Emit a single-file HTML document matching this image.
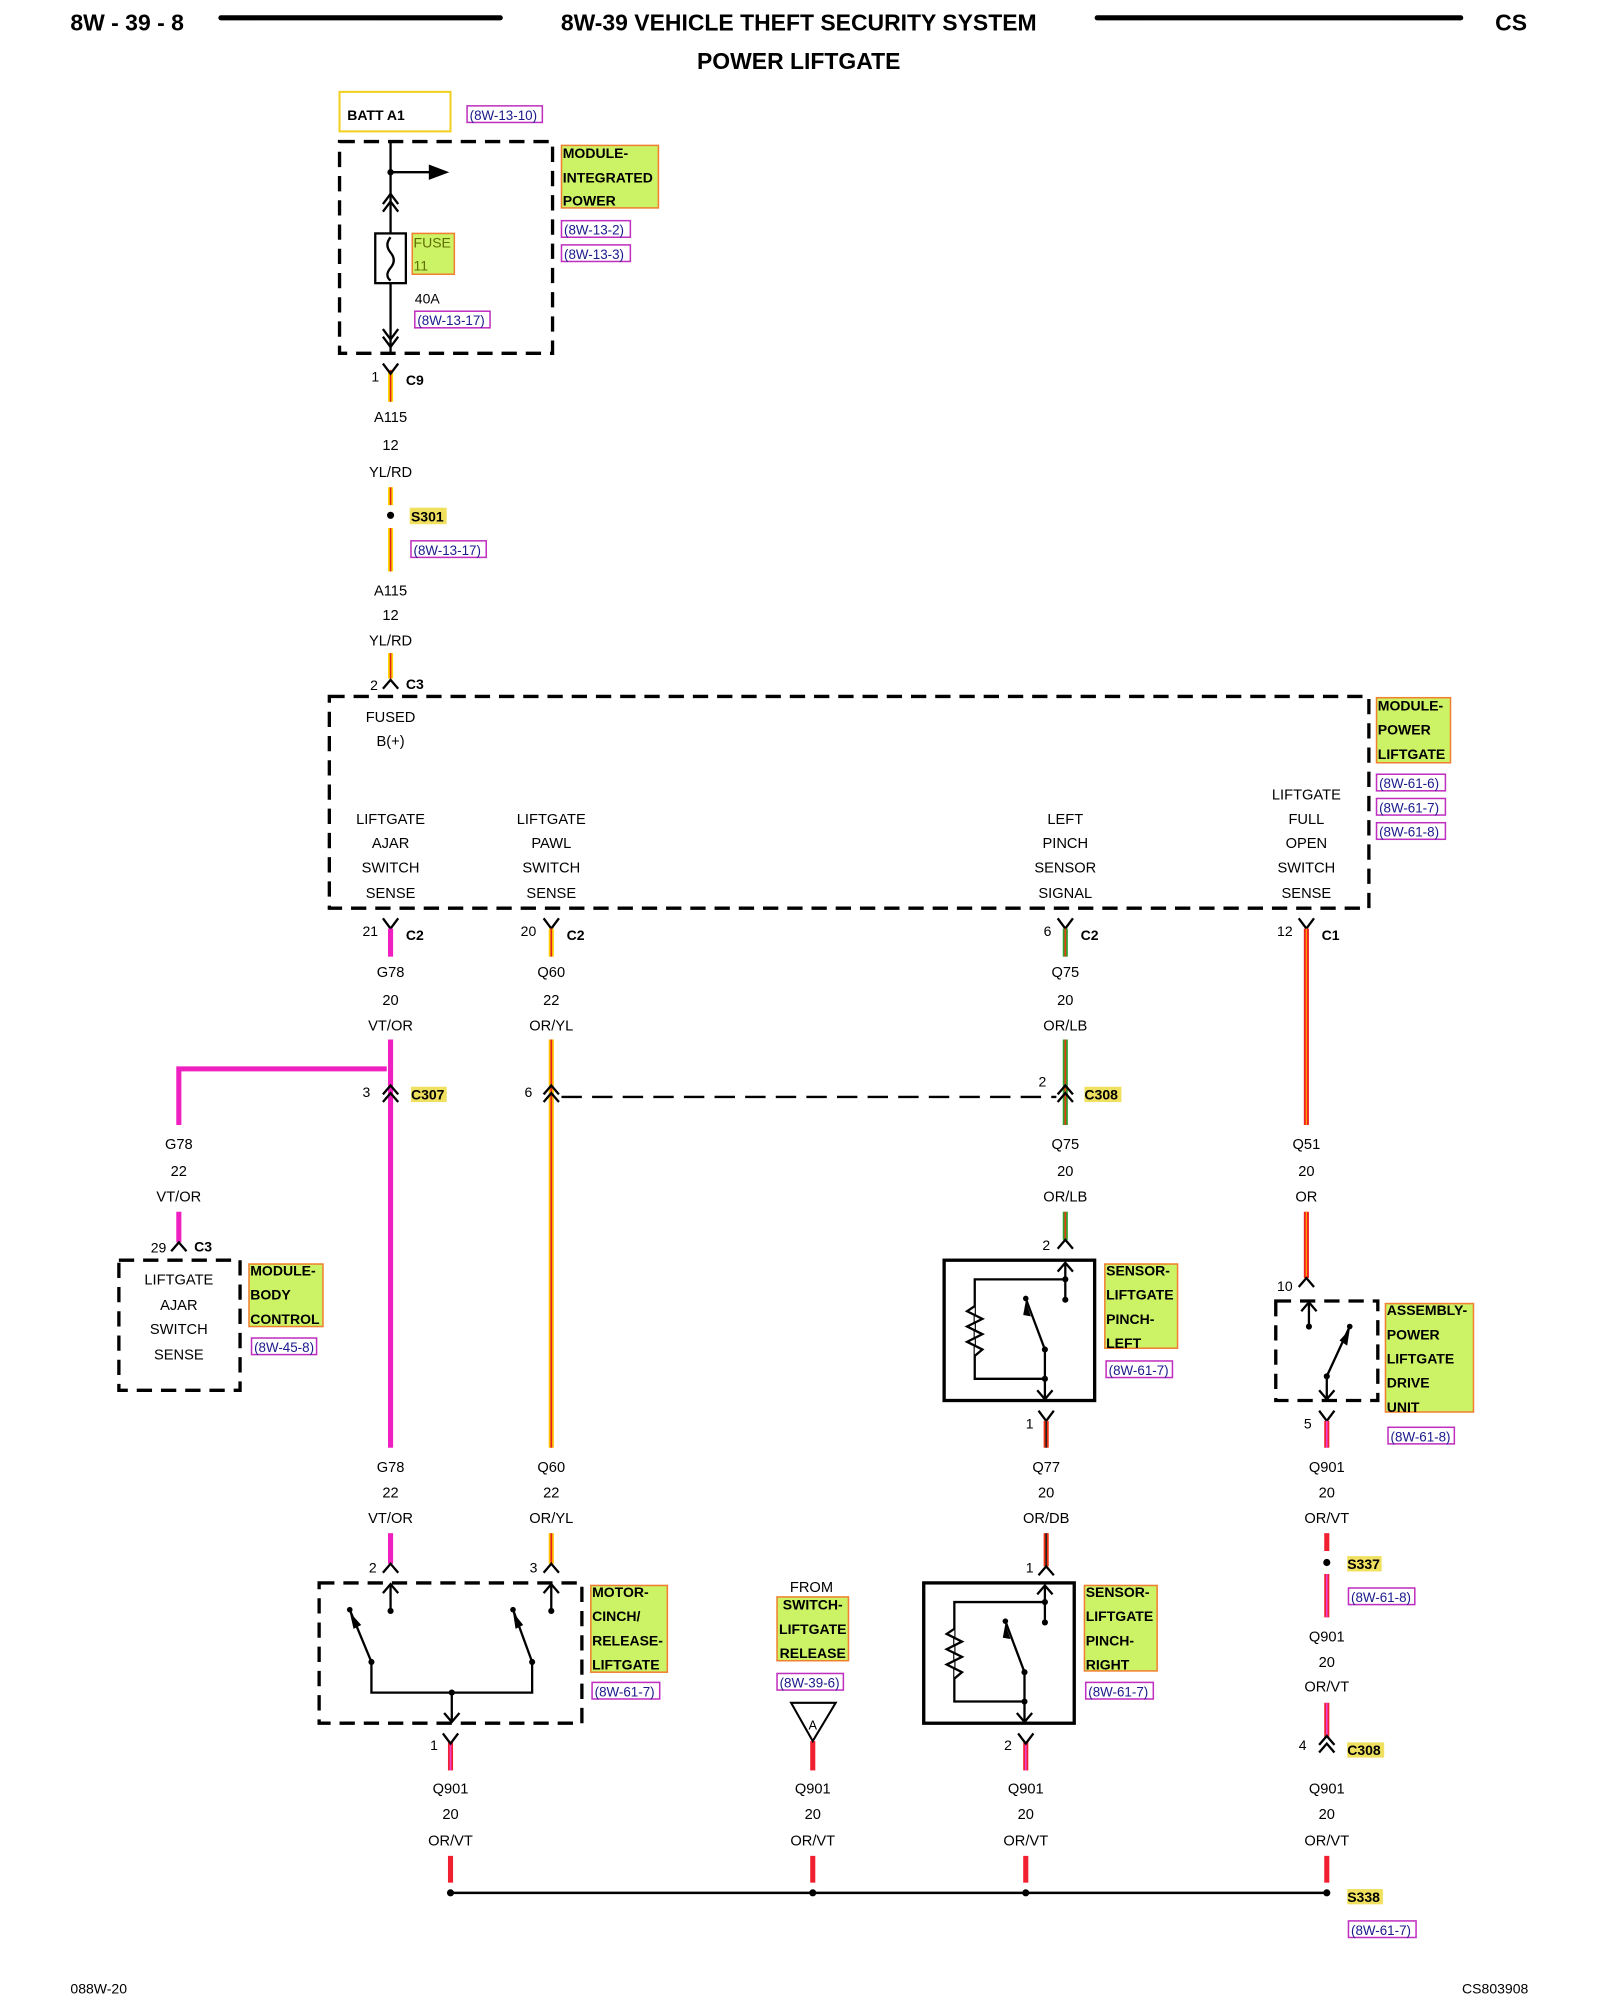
<!DOCTYPE html>
<html><head><meta charset="utf-8"><style>
html,body{margin:0;padding:0;background:#fff}
svg{display:block}
text{font-family:"Liberation Sans",Arial,sans-serif}
.t{font-size:11.5px;text-anchor:middle;fill:#000}
.b{font-size:11px;font-weight:bold;fill:#000}
.r{font-size:10.5px;fill:#1a1a8c}
.lb{fill:#ccf266;stroke:#f08030;stroke-width:1.2}
.rb{fill:none;stroke:#c030c0;stroke-width:1.2}
.d{fill:none;stroke:#000;stroke-width:2.6;stroke-dasharray:12,7}
.k{stroke:#000;stroke-width:1.8;fill:none}
</style></head><body>
<svg width="1600" height="2000" viewBox="0 0 1254 1568" xmlns="http://www.w3.org/2000/svg">
<!-- header -->
<text x="55" y="24" style="font-size:18px;font-weight:bold">8W - 39 - 8</text>
<line x1="173" y1="14" x2="392" y2="14" stroke="#000" stroke-width="4" stroke-linecap="round"/>
<text x="626" y="24" style="font-size:18px;font-weight:bold;text-anchor:middle">8W-39 VEHICLE THEFT SECURITY SYSTEM</text>
<line x1="860" y1="14" x2="1145" y2="14" stroke="#000" stroke-width="4" stroke-linecap="round"/>
<text x="1172" y="24" style="font-size:18px;font-weight:bold">CS</text>
<text x="626" y="54" style="font-size:18px;font-weight:bold;text-anchor:middle">POWER LIFTGATE</text>

<!-- BATT -->
<rect x="266" y="72" width="87" height="31" fill="none" stroke="#f0d020" stroke-width="1.6"/>
<text x="272" y="94" class="b">BATT A1</text>
<rect x="366" y="83" width="59" height="13" class="rb"/><text x="368" y="94" class="r">(8W-13-10)</text>
<rect x="266" y="111" width="167" height="166" class="d"/>
<line x1="306" y1="111" x2="306" y2="277" class="k"/>
<circle cx="306" cy="135" r="2.5"/>
<line x1="306" y1="135" x2="338" y2="135" class="k"/>
<polygon points="336,129 352,135 336,141"/>
<polyline points="300,160 306,152 312,160" class="k"/><polyline points="300,166 306,158 312,166" class="k"/>
<rect x="294" y="183" width="24" height="39" fill="#fff" stroke="#000" stroke-width="1.8"/>
<path d="M306,186 q-5,6 0,12 q5,6 0,12 q-5,6 0,10" class="k" stroke-width="1.2"/>
<rect x="323" y="183" width="33" height="32" class="lb"/>
<text x="324" y="194" style="font-size:11px;fill:#607000">FUSE</text><text x="324" y="212" style="font-size:11px;fill:#607000">11</text>
<text x="325" y="238" style="font-size:11px">40A</text>
<rect x="325" y="244" width="59" height="13" class="rb"/><text x="327" y="255" class="r">(8W-13-17)</text>
<polyline points="300,258 306,266 312,258" class="k"/><polyline points="300,264 306,272 312,264" class="k"/>
<rect x="440" y="114" width="76" height="49" class="lb"/>
<text x="441" y="124" class="b">MODULE-</text><text x="441" y="143" class="b">INTEGRATED</text><text x="441" y="161" class="b">POWER</text>
<rect x="440" y="173" width="54" height="13" class="rb"/><text x="442" y="184" class="r">(8W-13-2)</text>
<rect x="440" y="192" width="54" height="13" class="rb"/><text x="442" y="203" class="r">(8W-13-3)</text>

<!-- A115 -->
<g stroke-linecap="butt">
<line x1="306" y1="290" x2="306" y2="315" stroke="#ffd800" stroke-width="4"/><line x1="306" y1="290" x2="306" y2="315" stroke="#e02020" stroke-width="1.3"/>
<line x1="306" y1="382" x2="306" y2="396" stroke="#ffd800" stroke-width="4"/><line x1="306" y1="382" x2="306" y2="396" stroke="#e02020" stroke-width="1.3"/>
<line x1="306" y1="414" x2="306" y2="448" stroke="#ffd800" stroke-width="4"/><line x1="306" y1="414" x2="306" y2="448" stroke="#e02020" stroke-width="1.3"/>
<line x1="306" y1="512" x2="306" y2="532" stroke="#ffd800" stroke-width="4"/><line x1="306" y1="512" x2="306" y2="532" stroke="#e02020" stroke-width="1.3"/>
</g>
<polyline points="300,285 306,293 312,285" class="k"/>
<text x="291" y="299" style="font-size:11px">1</text><text x="318" y="302" class="b">C9</text>
<text x="306" y="331" class="t">A115</text><text x="306" y="353" class="t">12</text><text x="306" y="374" class="t">YL/RD</text>
<circle cx="306" cy="404" r="2.8"/>
<rect x="321" y="398" width="29" height="13" fill="#f0e060"/><text x="322" y="409" class="b">S301</text>
<rect x="322" y="424" width="59" height="13" class="rb"/><text x="324" y="435" class="r">(8W-13-17)</text>
<text x="306" y="467" class="t">A115</text><text x="306" y="486" class="t">12</text><text x="306" y="506" class="t">YL/RD</text>
<polyline points="300,540 306,533 312,540" class="k"/>
<text x="290" y="541" style="font-size:11px">2</text><text x="318" y="540" class="b">C3</text>

<!-- big module -->
<rect x="258" y="546" width="815" height="166" class="d"/>
<text x="306" y="566" class="t">FUSED</text><text x="306" y="585" class="t">B(+)</text>
<g class="t">
<text x="306" y="646" class="t">LIFTGATE</text><text x="306" y="665" class="t">AJAR</text><text x="306" y="684" class="t">SWITCH</text><text x="306" y="704" class="t">SENSE</text>
<text x="432" y="646" class="t">LIFTGATE</text><text x="432" y="665" class="t">PAWL</text><text x="432" y="684" class="t">SWITCH</text><text x="432" y="704" class="t">SENSE</text>
<text x="835" y="646" class="t">LEFT</text><text x="835" y="665" class="t">PINCH</text><text x="835" y="684" class="t">SENSOR</text><text x="835" y="704" class="t">SIGNAL</text>
<text x="1024" y="627" class="t">LIFTGATE</text><text x="1024" y="646" class="t">FULL</text><text x="1024" y="665" class="t">OPEN</text><text x="1024" y="684" class="t">SWITCH</text><text x="1024" y="704" class="t">SENSE</text>
</g>
<rect x="1079" y="547" width="58" height="51" class="lb"/>
<text x="1080" y="557" class="b">MODULE-</text><text x="1080" y="576" class="b">POWER</text><text x="1080" y="595" class="b">LIFTGATE</text>
<rect x="1079" y="607" width="54" height="13" class="rb"/><text x="1081" y="618" class="r">(8W-61-6)</text>
<rect x="1079" y="626" width="54" height="13" class="rb"/><text x="1081" y="637" class="r">(8W-61-7)</text>
<rect x="1079" y="645" width="54" height="13" class="rb"/><text x="1081" y="656" class="r">(8W-61-8)</text>

<!-- C2/C1 connectors -->
<polyline points="300,720 306,728 312,720" class="k"/><polyline points="426,720 432,728 438,720" class="k"/>
<polyline points="829,720 835,728 841,720" class="k"/><polyline points="1018,720 1024,728 1030,720" class="k"/>
<text x="284" y="734" style="font-size:11px">21</text><text x="318" y="737" class="b">C2</text>
<text x="408" y="734" style="font-size:11px">20</text><text x="444" y="737" class="b">C2</text>
<text x="818" y="734" style="font-size:11px">6</text><text x="847" y="737" class="b">C2</text>
<text x="1001" y="734" style="font-size:11px">12</text><text x="1036" y="737" class="b">C1</text>
<!-- wires from C2 -->
<line x1="306" y1="728" x2="306" y2="750" stroke="#f020c0" stroke-width="4"/>
<line x1="432" y1="728" x2="432" y2="750" stroke="#ffd000" stroke-width="4"/><line x1="432" y1="728" x2="432" y2="750" stroke="#e02020" stroke-width="1.3"/>
<line x1="835" y1="728" x2="835" y2="750" stroke="#30a030" stroke-width="4"/><line x1="835" y1="728" x2="835" y2="750" stroke="#e04010" stroke-width="1.3"/>
<line x1="1024" y1="728" x2="1024" y2="882" stroke="#f02020" stroke-width="4"/><line x1="1024" y1="728" x2="1024" y2="882" stroke="#ffa000" stroke-width="1"/>
<text x="306" y="766" class="t">G78</text><text x="306" y="788" class="t">20</text><text x="306" y="808" class="t">VT/OR</text>
<text x="432" y="766" class="t">Q60</text><text x="432" y="788" class="t">22</text><text x="432" y="808" class="t">OR/YL</text>
<text x="835" y="766" class="t">Q75</text><text x="835" y="788" class="t">20</text><text x="835" y="808" class="t">OR/LB</text>

<!-- long wires -->
<line x1="306" y1="815" x2="306" y2="1135" stroke="#f020c0" stroke-width="4"/>
<polyline points="303,838 140,838 140,882" fill="none" stroke="#f020c0" stroke-width="4"/>
<line x1="432" y1="815" x2="432" y2="1135" stroke="#ffc000" stroke-width="4"/><line x1="432" y1="815" x2="432" y2="1135" stroke="#e02020" stroke-width="1.3"/>
<line x1="835" y1="815" x2="835" y2="882" stroke="#30a030" stroke-width="4"/><line x1="835" y1="815" x2="835" y2="882" stroke="#e04010" stroke-width="1.3"/>
<polyline points="300,858 306,851 312,858" class="k"/><polyline points="300,864 306,857 312,864" class="k"/>
<polyline points="426,858 432,851 438,858" class="k"/><polyline points="426,864 432,857 438,864" class="k"/>
<polyline points="829,858 835,851 841,858" class="k"/><polyline points="829,864 835,857 841,864" class="k"/>
<line x1="440" y1="860" x2="828" y2="860" stroke="#000" stroke-width="1.8" stroke-dasharray="16,8"/>
<text x="284" y="860" style="font-size:11px">3</text>
<rect x="322" y="852" width="28" height="12" fill="#f0e060"/><text x="322" y="862" class="b">C307</text>
<text x="411" y="860" style="font-size:11px">6</text>
<text x="814" y="852" style="font-size:11px">2</text>
<rect x="850" y="852" width="29" height="12" fill="#f0e060"/><text x="850" y="862" class="b">C308</text>

<!-- body control -->
<text x="140" y="901" class="t">G78</text><text x="140" y="922" class="t">22</text><text x="140" y="942" class="t">VT/OR</text>
<line x1="140" y1="950" x2="140" y2="974" stroke="#f020c0" stroke-width="4"/>
<polyline points="134,981 140,974 146,981" class="k"/>
<text x="118" y="982" style="font-size:11px">29</text><text x="152" y="981" class="b">C3</text>
<rect x="93" y="988" width="95" height="102" class="d"/>
<text x="140" y="1007" class="t">LIFTGATE</text><text x="140" y="1027" class="t">AJAR</text><text x="140" y="1046" class="t">SWITCH</text><text x="140" y="1066" class="t">SENSE</text>
<rect x="195" y="991" width="58" height="49" class="lb"/>
<text x="196" y="1000" class="b">MODULE-</text><text x="196" y="1019" class="b">BODY</text><text x="196" y="1038" class="b">CONTROL</text>
<rect x="197" y="1049" width="51" height="13" class="rb"/><text x="199" y="1060" class="r">(8W-45-8)</text>

<!-- Q75 / sensor left -->
<text x="835" y="901" class="t">Q75</text><text x="835" y="922" class="t">20</text><text x="835" y="942" class="t">OR/LB</text>
<line x1="835" y1="950" x2="835" y2="972" stroke="#30a030" stroke-width="4"/><line x1="835" y1="950" x2="835" y2="972" stroke="#e04010" stroke-width="1.3"/>
<polyline points="829,979 835,972 841,979" class="k"/><text x="817" y="980" style="font-size:11px">2</text>
<g id="sens">
<rect x="740" y="988" width="118" height="110" fill="none" stroke="#000" stroke-width="2.6"/>
<line x1="835" y1="990" x2="835" y2="1019" class="k"/><polyline points="829,997 835,990 841,997" class="k"/>
<circle cx="835" cy="1019" r="2.4"/>
<polyline points="835,1003 764,1003 764,1081 819,1081" class="k"/><circle cx="835" cy="1003" r="2.4"/>
<polyline points="764,1024 758,1028 770,1034 758,1040 770,1046 758,1052 770,1058 764,1063" fill="#fff" stroke="#000" stroke-width="1.8"/>
<line x1="819" y1="1058" x2="819" y2="1097" class="k"/><circle cx="819" cy="1058" r="2.4"/><circle cx="819" cy="1081" r="2.4"/>
<line x1="819" y1="1058" x2="804" y2="1018" class="k"/><circle cx="804" cy="1018" r="2.2"/>
<polygon points="804,1020 808,1032 802,1031"/>
<polyline points="813,1090 819,1097 825,1090" class="k"/>
</g>
<rect x="866" y="991" width="57" height="66" class="lb"/>
<text x="867" y="1000" class="b">SENSOR-</text><text x="867" y="1019" class="b">LIFTGATE</text><text x="867" y="1038" class="b">PINCH-</text><text x="867" y="1057" class="b">LEFT</text>
<rect x="867" y="1067" width="52" height="13" class="rb"/><text x="869" y="1078" class="r">(8W-61-7)</text>
<polyline points="814,1106 820,1114 826,1106" class="k"/><text x="804" y="1120" style="font-size:11px">1</text>
<line x1="820" y1="1114" x2="820" y2="1135" stroke="#f03010" stroke-width="4"/><line x1="820" y1="1114" x2="820" y2="1135" stroke="#202020" stroke-width="1.2"/>

<!-- Q51 / drive unit -->
<text x="1024" y="901" class="t">Q51</text><text x="1024" y="922" class="t">20</text><text x="1024" y="942" class="t">OR</text>
<line x1="1024" y1="950" x2="1024" y2="1002" stroke="#f02020" stroke-width="4"/><line x1="1024" y1="950" x2="1024" y2="1002" stroke="#ffa000" stroke-width="1"/>
<polyline points="1018,1009 1024,1002 1030,1009" class="k"/><text x="1001" y="1012" style="font-size:11px">10</text>
<rect x="1000" y="1020" width="80" height="78" class="d"/>
<line x1="1026" y1="1021" x2="1026" y2="1040" class="k"/><polyline points="1020,1028 1026,1021 1032,1028" class="k"/><circle cx="1026" cy="1040" r="2.4"/>
<line x1="1040" y1="1079" x2="1040" y2="1097" class="k"/><circle cx="1040" cy="1079" r="2.4"/>
<line x1="1040" y1="1079" x2="1058" y2="1040" class="k"/><circle cx="1058" cy="1040" r="2.2"/>
<polygon points="1058,1042 1056,1055 1050,1051"/>
<polyline points="1034,1090 1040,1097 1046,1090" class="k"/>
<rect x="1086" y="1022" width="69" height="85" class="lb"/>
<text x="1087" y="1031" class="b">ASSEMBLY-</text><text x="1087" y="1050" class="b">POWER</text><text x="1087" y="1069" class="b">LIFTGATE</text><text x="1087" y="1088" class="b">DRIVE</text><text x="1087" y="1107" class="b">UNIT</text>
<rect x="1088" y="1119" width="52" height="13" class="rb"/><text x="1090" y="1130" class="r">(8W-61-8)</text>
<polyline points="1034,1106 1040,1114 1046,1106" class="k"/><text x="1022" y="1120" style="font-size:11px">5</text>

<!-- OR/VT wires helper colors -->
<g>
<line x1="1040" y1="1114" x2="1040" y2="1135" stroke="#f02030" stroke-width="4"/><line x1="1040" y1="1114" x2="1040" y2="1135" stroke="#f040d0" stroke-width="1.3"/>
<line x1="1040" y1="1202" x2="1040" y2="1216" stroke="#f02030" stroke-width="4"/>
<line x1="1040" y1="1234" x2="1040" y2="1268" stroke="#f02030" stroke-width="4"/><line x1="1040" y1="1234" x2="1040" y2="1268" stroke="#f040d0" stroke-width="1.3"/>
<line x1="1040" y1="1335" x2="1040" y2="1362" stroke="#f02030" stroke-width="4"/><line x1="1040" y1="1335" x2="1040" y2="1362" stroke="#f040d0" stroke-width="1.3"/>
<line x1="1040" y1="1455" x2="1040" y2="1476" stroke="#f02030" stroke-width="4"/>
<line x1="804" y1="1366" x2="804" y2="1388" stroke="#f02030" stroke-width="4"/><line x1="804" y1="1366" x2="804" y2="1388" stroke="#f040d0" stroke-width="1.3"/>
<line x1="804" y1="1455" x2="804" y2="1476" stroke="#f02030" stroke-width="4"/>
<line x1="637" y1="1365" x2="637" y2="1388" stroke="#f02030" stroke-width="4"/>
<line x1="637" y1="1455" x2="637" y2="1476" stroke="#f02030" stroke-width="4"/>
<line x1="353" y1="1366" x2="353" y2="1388" stroke="#f02030" stroke-width="4"/><line x1="353" y1="1366" x2="353" y2="1388" stroke="#f040d0" stroke-width="1.3"/>
<line x1="353" y1="1455" x2="353" y2="1476" stroke="#f02030" stroke-width="4"/>
<line x1="820" y1="1202" x2="820" y2="1228" stroke="#f03010" stroke-width="4"/><line x1="820" y1="1202" x2="820" y2="1228" stroke="#202020" stroke-width="1.2"/>
<line x1="306" y1="1202" x2="306" y2="1226" stroke="#f020c0" stroke-width="4"/>
<line x1="432" y1="1202" x2="432" y2="1226" stroke="#ffc000" stroke-width="4"/><line x1="432" y1="1202" x2="432" y2="1226" stroke="#e02020" stroke-width="1.3"/>
</g>

<text x="1040" y="1154" class="t">Q901</text><text x="1040" y="1174" class="t">20</text><text x="1040" y="1194" class="t">OR/VT</text>
<circle cx="1040" cy="1225" r="2.8"/>
<rect x="1056" y="1220" width="27" height="12" fill="#f0e060"/><text x="1056" y="1230" class="b">S337</text>
<rect x="1057" y="1245" width="52" height="13" class="rb"/><text x="1059" y="1256" class="r">(8W-61-8)</text>
<text x="1040" y="1287" class="t">Q901</text><text x="1040" y="1307" class="t">20</text><text x="1040" y="1326" class="t">OR/VT</text>
<polyline points="1034,1368 1040,1361 1046,1368" class="k"/><polyline points="1034,1374 1040,1367 1046,1374" class="k"/>
<text x="1018" y="1372" style="font-size:11px">4</text>
<rect x="1056" y="1366" width="29" height="12" fill="#f0e060"/><text x="1056" y="1376" class="b">C308</text>

<!-- G78 / Q60 lower -->
<text x="306" y="1154" class="t">G78</text><text x="306" y="1174" class="t">22</text><text x="306" y="1194" class="t">VT/OR</text>
<text x="432" y="1154" class="t">Q60</text><text x="432" y="1174" class="t">22</text><text x="432" y="1194" class="t">OR/YL</text>
<text x="820" y="1154" class="t">Q77</text><text x="820" y="1174" class="t">20</text><text x="820" y="1194" class="t">OR/DB</text>
<polyline points="300,1233 306,1226 312,1233" class="k"/><text x="289" y="1233" style="font-size:11px">2</text>
<polyline points="426,1233 432,1226 438,1233" class="k"/><text x="415" y="1233" style="font-size:11px">3</text>
<polyline points="814,1235 820,1228 826,1235" class="k"/><text x="804" y="1233" style="font-size:11px">1</text>

<!-- motor -->
<rect x="250" y="1241" width="206" height="110" class="d"/>
<line x1="306" y1="1242" x2="306" y2="1263" class="k"/><polyline points="300,1249 306,1242 312,1249" class="k"/><circle cx="306" cy="1263" r="2.4"/>
<line x1="432" y1="1242" x2="432" y2="1263" class="k"/><polyline points="426,1249 432,1242 438,1249" class="k"/><circle cx="432" cy="1263" r="2.4"/>
<line x1="291" y1="1303" x2="274" y2="1262" class="k"/><circle cx="274" cy="1262" r="2.2"/><circle cx="291" cy="1303" r="2.4"/>
<polygon points="274,1264 283,1274 277,1277"/>
<line x1="417" y1="1303" x2="402" y2="1262" class="k"/><circle cx="402" cy="1262" r="2.2"/><circle cx="417" cy="1303" r="2.4"/>
<polygon points="402,1264 410,1274 404,1277"/>
<polyline points="291,1303 291,1327 417,1327 417,1303" class="k"/>
<circle cx="354" cy="1327" r="2.4"/><line x1="354" y1="1327" x2="354" y2="1350" class="k"/>
<polyline points="348,1343 354,1350 360,1343" class="k"/>
<rect x="463" y="1243" width="60" height="68" class="lb"/>
<text x="464" y="1252" class="b">MOTOR-</text><text x="464" y="1271" class="b">CINCH/</text><text x="464" y="1290" class="b">RELEASE-</text><text x="464" y="1309" class="b">LIFTGATE</text>
<rect x="464" y="1319" width="53" height="13" class="rb"/><text x="466" y="1330" class="r">(8W-61-7)</text>
<polyline points="347,1359 353,1367 359,1359" class="k"/><text x="337" y="1372" style="font-size:11px">1</text>

<!-- from switch -->
<text x="636" y="1248" class="t">FROM</text>
<rect x="609" y="1252" width="56" height="50" class="lb"/>
<text x="637" y="1262" class="b" text-anchor="middle">SWITCH-</text><text x="637" y="1281" class="b" text-anchor="middle">LIFTGATE</text><text x="637" y="1300" class="b" text-anchor="middle">RELEASE</text>
<rect x="609" y="1312" width="52" height="13" class="rb"/><text x="611" y="1323" class="r">(8W-39-6)</text>
<polygon points="620,1335 655,1335 637,1365" fill="#fff" stroke="#000" stroke-width="1.6"/>
<text x="637" y="1356" class="t" style="font-size:10px">A</text>

<!-- sensor right -->
<g transform="translate(-16,253)">
<rect x="740" y="988" width="118" height="110" fill="none" stroke="#000" stroke-width="2.6"/>
<line x1="835" y1="990" x2="835" y2="1019" class="k"/><polyline points="829,997 835,990 841,997" class="k"/>
<circle cx="835" cy="1019" r="2.4"/>
<polyline points="835,1003 764,1003 764,1081 819,1081" class="k"/><circle cx="835" cy="1003" r="2.4"/>
<polyline points="764,1024 758,1028 770,1034 758,1040 770,1046 758,1052 770,1058 764,1063" fill="#fff" stroke="#000" stroke-width="1.8"/>
<line x1="819" y1="1058" x2="819" y2="1097" class="k"/><circle cx="819" cy="1058" r="2.4"/><circle cx="819" cy="1081" r="2.4"/>
<line x1="819" y1="1058" x2="804" y2="1018" class="k"/><circle cx="804" cy="1018" r="2.2"/>
<polygon points="804,1020 808,1032 802,1031"/>
<polyline points="813,1090 819,1097 825,1090" class="k"/>
</g>
<rect x="850" y="1243" width="57" height="67" class="lb"/>
<text x="851" y="1252" class="b">SENSOR-</text><text x="851" y="1271" class="b">LIFTGATE</text><text x="851" y="1290" class="b">PINCH-</text><text x="851" y="1309" class="b">RIGHT</text>
<rect x="851" y="1319" width="53" height="13" class="rb"/><text x="853" y="1330" class="r">(8W-61-7)</text>
<polyline points="798,1359 804,1367 810,1359" class="k"/><text x="787" y="1372" style="font-size:11px">2</text>

<!-- bottom texts -->
<text x="353" y="1406" class="t">Q901</text><text x="353" y="1426" class="t">20</text><text x="353" y="1447" class="t">OR/VT</text>
<text x="637" y="1406" class="t">Q901</text><text x="637" y="1426" class="t">20</text><text x="637" y="1447" class="t">OR/VT</text>
<text x="804" y="1406" class="t">Q901</text><text x="804" y="1426" class="t">20</text><text x="804" y="1447" class="t">OR/VT</text>
<text x="1040" y="1406" class="t">Q901</text><text x="1040" y="1426" class="t">20</text><text x="1040" y="1447" class="t">OR/VT</text>
<line x1="353" y1="1484" x2="1040" y2="1484" stroke="#000" stroke-width="2"/>
<circle cx="353" cy="1484" r="2.8"/><circle cx="637" cy="1484" r="2.8"/><circle cx="804" cy="1484" r="2.8"/><circle cx="1040" cy="1484" r="2.8"/>
<rect x="1056" y="1481" width="28" height="12" fill="#f0e060"/><text x="1056" y="1491" class="b">S338</text>
<rect x="1057" y="1506" width="53" height="13" class="rb"/><text x="1059" y="1517" class="r">(8W-61-7)</text>

<text x="55" y="1563" style="font-size:11px">088W-20</text>
<text x="1198" y="1563" style="font-size:11px;text-anchor:end">CS803908</text>
</svg>
</body></html>
